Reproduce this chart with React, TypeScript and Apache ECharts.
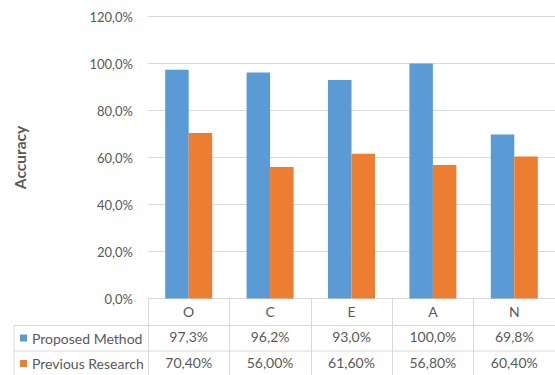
import React, { useEffect, useRef } from "react";
import * as echarts from "echarts";

const categories = ["O", "C", "E", "A", "N"];
const proposed = [97.3, 96.2, 93.0, 100.0, 69.8];
const previous = [70.4, 56.0, 61.6, 56.8, 60.4];
const seriesNames = ["Proposed Method", "Previous Research"];
const yTicks = [0, 20, 40, 60, 80, 100, 120];

const FONT = "Lato, 'Open Sans', sans-serif";
const GREY = "#595959";
const LINE = "#d9d9d9";

const fmt = (v: number, d: number) => v.toFixed(d).replace(".", ",") + "%";

export default function App() {
  const ref = useRef<HTMLDivElement>(null);
  useEffect(() => {
    if (!ref.current) return;
    const chart = echarts.init(ref.current, undefined, { renderer: "svg" });
    const gridLeft = 148;
    const gridTop = 16.5;
    const gridBottomY = 300;
    const colW = 82.5;
    const gridW = colW * categories.length;
    const rowH = 25.5;
    chart.setOption({
      animation: false,
      textStyle: { fontFamily: FONT },
      grid: { left: gridLeft, top: gridTop, width: gridW, height: gridBottomY - gridTop, containLabel: false },
      legend: {
        orient: "vertical",
        left: 20,
        top: gridBottomY + rowH + 4.5,
        padding: 0,
        itemWidth: 7,
        itemHeight: 7,
        itemGap: rowH - 16,
        icon: "rect",
        selectedMode: false,
        textStyle: { fontFamily: FONT, fontSize: 14, color: GREY, lineHeight: 16 },
        data: seriesNames,
      },
      xAxis: {
        type: "category",
        data: categories,
        axisLine: { show: true, lineStyle: { color: LINE, width: 1 } },
        axisTick: { show: true, interval: 0, length: 80, lineStyle: { color: LINE, width: 1 } },
        axisLabel: {
          interval: 0,
          margin: 0,
          color: GREY,
          fontFamily: FONT,
          fontSize: 14,
          lineHeight: rowH,
          formatter: (_v: string, i: number) =>
            `${categories[i]}\n${fmt(proposed[i], 1)}\n${fmt(previous[i], 2)}`,
        },
      },
      yAxis: {
        type: "value",
        min: yTicks[0],
        max: yTicks[yTicks.length - 1],
        interval: 20,
        name: "Accuracy",
        nameLocation: "middle",
        nameRotate: 90,
        nameGap: 120,
        nameTextStyle: { color: GREY, fontFamily: FONT, fontSize: 15.5, fontWeight: "bold" },
        axisLine: { show: false },
        axisTick: { show: false },
        axisLabel: {
          margin: 15,
          color: GREY,
          fontFamily: FONT,
          fontSize: 13,
          formatter: (v: number) => fmt(v, 1),
        },
        splitLine: { lineStyle: { color: LINE, width: 1 } },
      },
      series: [
        {
          name: seriesNames[0],
          type: "bar",
          data: proposed,
          barWidth: 23.5,
          barGap: "0%",
          itemStyle: { color: "#5B9BD5" },
        },
        {
          name: seriesNames[1],
          type: "bar",
          data: previous,
          barWidth: 23.5,
          itemStyle: { color: "#ED7D31" },
        },
      ],
      graphic: [
        { type: "line", shape: { x1: 14, y1: gridBottomY + rowH, x2: 560, y2: gridBottomY + rowH }, style: { stroke: LINE, lineWidth: 1 } },
        { type: "line", shape: { x1: 14, y1: gridBottomY + 2 * rowH, x2: 560, y2: gridBottomY + 2 * rowH }, style: { stroke: LINE, lineWidth: 1 } },
        { type: "line", shape: { x1: 14, y1: gridBottomY + rowH, x2: 14, y2: 380 }, style: { stroke: LINE, lineWidth: 1 } },
      ],
    });
    return () => chart.dispose();
  }, []);
  return <div ref={ref} style={{ width: 555, height: 375, position: "absolute", left: 0, top: 0 }} />;
}
